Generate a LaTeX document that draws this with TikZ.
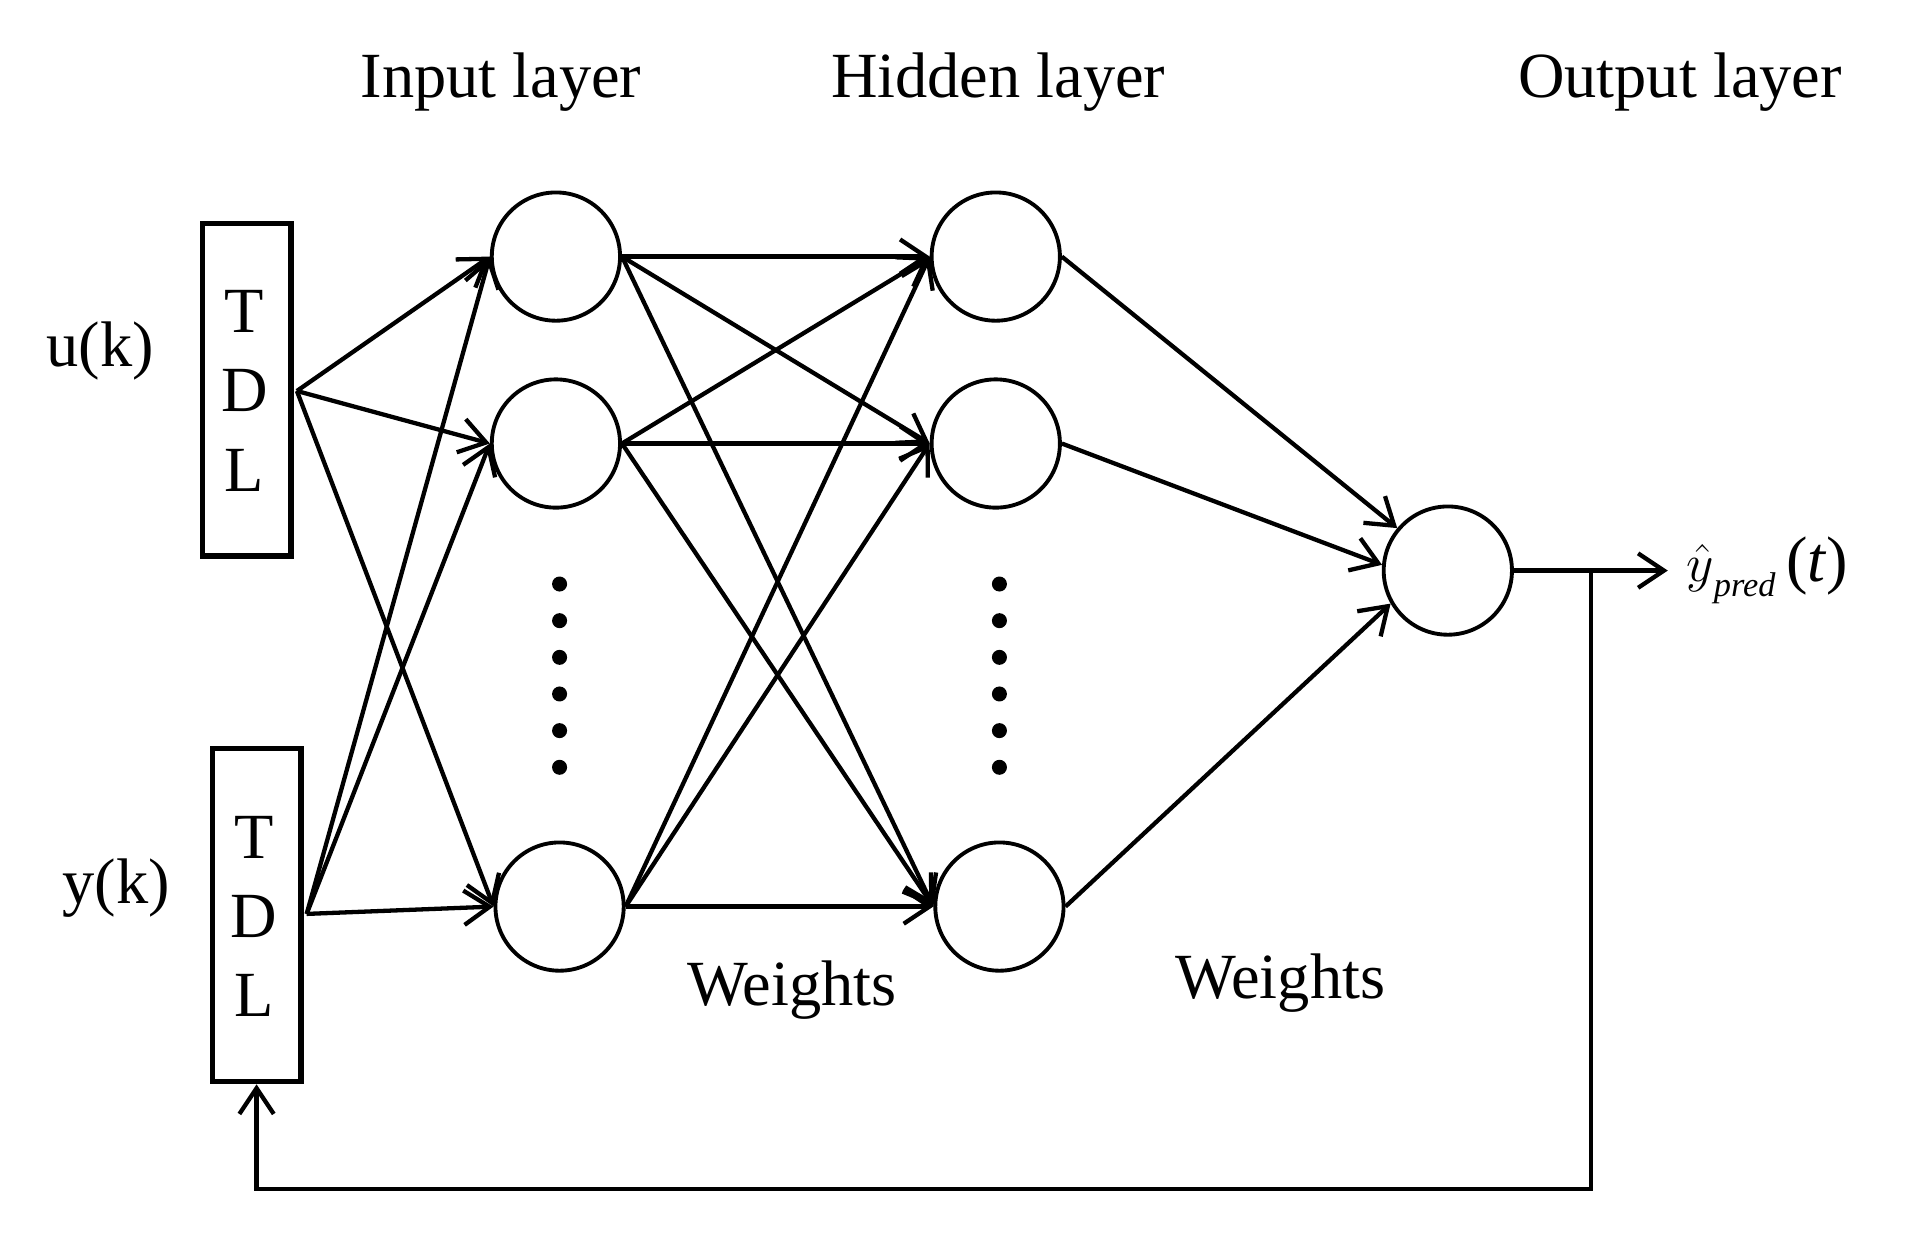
\documentclass[tikz,border=0pt]{standalone}
\usepackage{fontspec}
\setmainfont{Liberation Serif}
\usetikzlibrary{arrows.meta}
\begin{document}
\begin{tikzpicture}[x=0.02cm,y=-0.02cm,
  neuron/.style={circle,draw,line width=1.8pt,minimum size=2.1cm,inner sep=0pt},
  tdl/.style={draw,line width=2.6pt,minimum width=1.45cm,minimum height=5.45cm,inner sep=0pt},
  con/.style={line width=2pt,-{Straight Barb[length=12pt,width=16pt,line width=2pt]}},
  lbl/.style={font=\fontsize{30}{36}\selectfont},
  dot/.style={circle,fill,inner sep=0pt,minimum size=7pt}]
\useasboundingbox (0,0) rectangle (1560,1021);
\node[tdl] (t1) at (202,319) {};
\node[tdl] (t2) at (210,749) {};
\node[lbl] (t1T) at (200,255) {T};
\node[lbl] (t1D) at (200,320) {D};
\node[lbl] (t1L) at (200,385) {L};
\node[lbl] (t2T) at (208,685) {T};
\node[lbl] (t2D) at (208,750) {D};
\node[lbl] (t2L) at (208,815) {L};
\node[lbl] (u) at (82,287) {u(k)};
\node[lbl] (y) at (95,727) {y(k)};
\node[neuron] (i1) at (455,210) {};
\node[neuron] (i2) at (455,363) {};
\node[neuron] (i3) at (458,742) {};
\node[neuron] (h1) at (815,210) {};
\node[neuron] (h2) at (815,363) {};
\node[neuron] (h3) at (818,742) {};
\node[neuron] (o) at (1185,467) {};
\foreach \k in {0,...,5}{
  \node[dot] (di\k) at (458,478+30*\k) {};
  \node[dot] (dh\k) at (818,478+30*\k) {};}
\coordinate (s1) at (243,320);
\coordinate (s2) at (251,748);
\foreach \t in {i1,i2,i3}{\draw[con] (s1) -- (\t.west); \draw[con] (s2) -- (\t.west);}
\foreach \s in {i1,i2,i3}{\foreach \t in {h1,h2,h3}{\draw[con] (\s.east) -- (\t.west);}}
\draw[con] (h1.east) -- (o.140);
\draw[con] (h2.east) -- (o.175);
\draw[con] (h3.east) -- (o.210);
\coordinate (end) at (1365,467);
\coordinate (fb) at (1302,467);
\coordinate (c1) at (1302,973);
\coordinate (c2) at (210,973);
\draw[con] (o) -- (end);
\draw[con] (fb) -- (c1) -- (c2) -- (t2.south);
\node[lbl,anchor=west,inner sep=0pt] (yp) at (1380,467) {$\hat{y}$\raisebox{-0.5ex}{\fontsize{16}{18}\selectfont\itshape pred}\,(\textit{t})};
\node[lbl] (L1) at (410,67) {Input layer};
\node[lbl] (L2) at (817,67) {Hidden layer};
\node[lbl] (L3) at (1375,67) {Output layer};
\node[lbl] (w1) at (648,810) {Weights};
\node[lbl] (w2) at (1048,805) {Weights};
\end{tikzpicture}
\end{document}
